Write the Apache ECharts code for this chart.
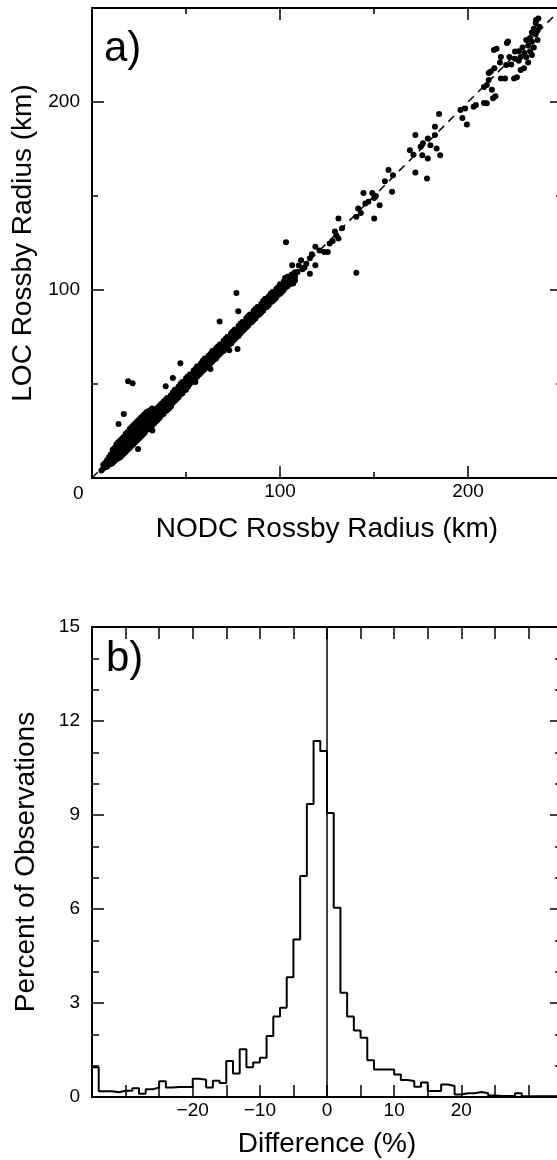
<!DOCTYPE html>
<html lang="en">
<head>
    <meta charset="utf-8">
    <title>Rossby Radius comparison</title>
    <style>
        html, body { margin: 0; padding: 0; background: #fff; }
        #chart { width: 557px; height: 1160px; }
    </style>
</head>
<body>
<div id="chart"></div>
<script type="text/javascript" src="https://cdn.jsdelivr.net/npm/echarts@6/dist/echarts.min.js"></script>
<script type="text/javascript">
// panel a) : dense band along the 1:1 line, [NODC, LOC] in km
var bandPairs = [
    [5,4],[6,5],[6,7],[7,6],[7,8],[8,6],[8,7.5],[8,9.5],[9,7],[9,9],[9,11],[10,7.5],[10,10],[10,12.5],
    [11,8],[11,11],[11,13.5],[11,15],[12,9],[12,12],[12,14],[12,16],[13,10],[13,13],[13,15.5],[13,18],
    [14,10.5],[14,14],[14,16],[14,19],[15,11],[15,15],[15,17.5],[15,20],[16,12],[16,16],[16,18.5],[16,21],
    [17,13],[17,17],[17,19.5],[17,22],[18,14],[18,18],[18,21],[18,23.5],[19,15],[19,19],[19,22],[19,24.5],
    [20,16],[20,20],[20,23],[20,26],[21,17],[21,21],[21,24],[21,27],[22,18],[22,22],[22,25],[22,28],
    [23,19],[23,23],[23,26],[23,29],[24,20],[24,24],[24,27],[24,30],[25,21],[25,25],[25,28],[25,31],
    [26,22],[26,26],[26,29],[26,32],[27,23],[27,27],[27,30],[27,33],[28,24],[28,28],[28,31],[28,34],
    [29,25.5],[29,29],[29,32],[29,35],[30,26],[30,30],[30,33],[30,35.5],[31,27],[31,31],[31,34],[31,36],
    [32,28],[32,32],[32,35],[32,37],[33,29],[33,33],[33,35.5],[34,30],[34,34],[34,36.5],[35,31],[35,35],[35,37.5],
    [36,32],[36,36],[36,38.5],[37,33.5],[37,37],[37,39.5],[38,34],[38,38],[38,40.5],[39,35.5],[39,39],[39,41.5],
    [40,36],[40,40],[40,42.5],[41,37],[41,41],[42,38],[42,42],[42,44],[43,40],[43,43],[43,45.5],[44,41],[44,44.5],[44,47],
    [45,42],[45,45.5],[46,43],[46,46],[46,48.5],[47,44.5],[47,48],[47,50],[48,45],[48,48.5],[48,51],[49,46.5],[49,50],
    [50,47],[50,50.5],[50,53],[51,48.5],[51,52],[51,54],[52,50],[52,53],[52,55],[53,51],[53,54],
    [54,51.5],[54,55],[54,57],[55,53],[55,56],[55,58],[56,54],[56,57.5],[56,59.5],[57,55],[57,58],
    [58,56],[58,59],[58,61],[59,57],[59,60.5],[59,62.5],[60,58],[60,61],[60,63.5],[61,59],[61,62],
    [62,59.5],[62,63],[62,65],[63,61],[63,64],[63,66],[64,62],[64,65.5],[64,67.5],[65,63],[65,66],
    [66,63.5],[66,67],[66,69],[67,65],[67,68],[67,70],[68,66],[68,69.5],[68,71],[69,67],[69,70],
    [70,67.5],[70,71],[70,73],[71,69],[71,72],[71,74],[72,70],[72,73.5],[72,75],[73,71],[73,74],
    [74,71.5],[74,75],[74,77],[75,73],[75,76],[75,78],[76,74],[76,77.5],[76,79],[77,75],[77,78],
    [78,75.5],[78,79],[78,81],[79,77],[79,80],[79,82],[80,78],[80,81.5],[80,83],[81,79],[81,82],
    [82,80],[82,83],[82,85],[83,81],[83,84.5],[83,86],[84,82.5],[84,85.5],[84,87],[85,83],[85,86],
    [86,84],[86,87],[86,89],[87,85],[87,88.5],[87,90],[88,86.5],[88,89.5],[88,91],[89,87],[89,90],
    [90,88],[90,91],[90,92.5],[91,89],[91,92],[91,94],[92,90.5],[92,93.5],[92,95],[93,91],[93,94],
    [94,92],[94,95],[94,96.5],[95,93.5],[95,96],[95,98],[96,94],[96,97.5],[96,99],[97,95],[97,98],
    [98,96],[98,99],[98,100.5],[99,97.5],[99,100],[99,101.5],[100,98],[100,101],[100,103],
    [101,99],[101,102],[102,100],[102,103],[102,104.5],[103,101.5],[103,104],[103,106],
    [104,102],[104,105.5],[104,107],[105,103],[106,104],[106,107],[106,108],[107,103.5],[107,108.5],[108,105],[108,109.5]
];
// panel a) : scattered points away from the band
var sparsePairs = [
    [16.9,34],[14.1,28.7],[24.5,15.4],[19.2,51.4],[21.6,50.4],[32.1,25.2],[39.2,48.8],[43,53.2],[47,61],
    [67.9,83.2],[77.8,88.7],[76.8,98.4],[77.4,68.6],[73,68],[63,58],[55,51],
    [92.2,95.4],[96,97.2],[97.9,99.8],[100.8,101.7],[102.7,106.4],[105.6,103.4],[108,107],[109.3,109.6],
    [106.5,113.1],[111.2,115.8],[110,113],[112,111],[113,112],[114,114],[115.9,116.9],[115.9,108.7],
    [118.8,113.1],[117,119],[118.8,123],[121,121],[103.2,125.4],[123.5,120.2],[125.4,120.2],[126.4,124.7],
    [128,126],[130,129],[129.2,131.1],[131.1,127.4],[133,132.9],[131.1,138],[140.6,109.2],
    [140.6,139],[141.6,143.3],[143,141],[145.4,146],[147,147],[144.4,151.6],[149.1,151.6],[150.1,148.9],
    [151,150],[153,145.1],[150.1,138],[155.8,157.8],[159.6,152.2],[157.7,163.8],[160.1,161.1],
    [172,162.5],[178.2,159.3],[169.1,174.4],[171,172],[174.8,176.2],[175.7,171.7],[178.6,170],[176,178],
    [178.6,180.6],[172,182.4],[180,177],[182.4,182.4],[182.4,186.9],[183.3,175.3],[185.2,171.7],
    [184.6,193.6],[196,195.7],[197,191.5],[198.5,196.6],[199.4,188],[203,197.5],[204.2,198.4],[208.5,199.5],
    [210,199.3],[213.3,202],[214.6,203],[208.5,208],[210,209],[211,211.7],[212.7,206.5],[211,215.4],
    [212.1,216.2],[214,218],[217.5,212.5],[219.7,212.5],[224.5,212.5],[226,213.1],[217,221],[217.5,224],
    [220.3,219.7],[222,224],[223,220],[225,223],[213.8,227.7],[215.2,228.3],[220.7,231.4],[221.3,232.2],
    [225,226.8],[227,222],[228,217],[229.8,218],[227,227],[228,224],[230,226],[231,224],[229,229],
    [231,233],[232,230],[233,227],[233,234],[234,232],[234,237],[235,229],[235,239],[236,236],[236,242],
    [237,233],[232,221],[234,225],[236.2,243.6],[237.4,244.4],[238,240],[237,238]
];
var oneToOne = [[0, 0], [250, 250]];

// panel b) : histogram of differences, 1 % bins, left edges and percent
var binLeft = [
    -35,-34,-33,-32,-31,-30,-29,-28,-27,-26,-25,-24,-23,-22,-21,-20,-19,-18,-17,-16,
    -15,-14,-13,-12,-11,-10,-9,-8,-7,-6,-5,-4,-3,-2,-1,0,1,2,3,4,
    5,6,7,8,9,10,11,12,13,14,15,16,17,18,19,20,21,22,23,24,
    25,26,27,28,29,30,31,32,33,34
];
var binPercent = [
    0.95,0.18,0.18,0.15,0.2,0.2,0.28,0.1,0.25,0.3,0.5,0.3,0.32,0.32,0.32,0.58,0.55,0.3,0.52,0.45,
    1.15,0.75,1.52,0.95,1.1,1.25,1.95,2.57,2.85,3.82,5.03,7.05,9.35,11.36,11.04,9.06,6.04,3.33,2.57,2.12,
    1.89,1.17,0.88,0.88,0.88,0.72,0.54,0.51,0.33,0.46,0.19,0.19,0.4,0.35,0.08,0.12,0.12,0.16,0.12,0.05,
    0.03,0.03,0.03,0.12,0.02,0.02,0.02,0.02,0.02,0.02
];
var binRight = 35;

var font = 'Liberation Sans, Arial, sans-serif';
var black = '#000';

function axisBase(extra) {
    var o = {
        type: 'value',
        splitLine: { show: false },
        axisLine: { show: true, onZero: false, lineStyle: { color: black, width: 2 } },
        axisTick: { show: true, inside: true, length: 12, lineStyle: { color: black, width: 1.5 } },
        axisLabel: { show: false, color: black, fontFamily: font, fontSize: 19 },
        nameTextStyle: { color: black, fontFamily: font, fontSize: 28 }
    };
    for (var k in extra) o[k] = extra[k];
    return o;
}
function shortTicks(extra) {
    var o = axisBase(extra);
    o.axisLine = { show: false, onZero: false };
    o.axisTick = { show: true, inside: true, length: 6, lineStyle: { color: black, width: 1.5 } };
    return o;
}

var histLine = [];
for (var i = 0; i < binLeft.length; i++) {
    histLine.push([binLeft[i], binPercent[i]]);
}
histLine.push([binRight, binPercent[binPercent.length - 1]]);

var myChart = echarts.init(document.getElementById('chart'), null, { renderer: 'canvas' });
var option = {
    backgroundColor: '#fff',
    animation: false,
    grid: [
        { left: 92, top: 8, width: 470, height: 470, outerBoundsMode: 'none', containLabel: false },
        { left: 92, top: 627, width: 470, height: 470, outerBoundsMode: 'none', containLabel: false }
    ],
    xAxis: [
        axisBase({
            gridIndex: 0, position: 'bottom', min: 0, max: 250, interval: 100,
            name: 'NODC Rossby Radius (km)', nameLocation: 'middle', nameGap: 37,
            axisLabel: {
                show: true, color: black, fontFamily: font, fontSize: 19, margin: 4,
                showMaxLabel: false,
                formatter: function (v) { return v === 0 ? '' : String(v); }
            }
        }),
        shortTicks({ gridIndex: 0, position: 'bottom', min: 0, max: 250, interval: 50 }),
        axisBase({ gridIndex: 0, position: 'top', min: 0, max: 250, interval: 100 }),
        shortTicks({ gridIndex: 0, position: 'top', min: 0, max: 250, interval: 50 }),
        axisBase({
            gridIndex: 1, position: 'bottom', min: -35, max: 35, interval: 5,
            name: 'Difference (%)', nameLocation: 'middle', nameGap: 33,
            axisLabel: {
                show: true, color: black, fontFamily: font, fontSize: 19, margin: 4,
                formatter: function (v) {
                    if (v % 10 !== 0 || Math.abs(v) > 20) return '';
                    return v < 0 ? '\u2212' + Math.abs(v) : String(v);
                }
            }
        }),
        axisBase({ gridIndex: 1, position: 'top', min: -35, max: 35, interval: 5 })
    ],
    yAxis: [
        axisBase({
            gridIndex: 0, position: 'left', min: 0, max: 250, interval: 100,
            name: 'LOC Rossby Radius (km)', nameLocation: 'middle', nameGap: 52,
            axisLabel: {
                show: true, color: black, fontFamily: font, fontSize: 19, margin: 12,
                showMaxLabel: false,
                formatter: function (v) { return v === 0 ? '' : String(v); }
            }
        }),
        shortTicks({ gridIndex: 0, position: 'left', min: 0, max: 250, interval: 50 }),
        axisBase({ gridIndex: 0, position: 'right', min: 0, max: 250, interval: 100 }),
        shortTicks({ gridIndex: 0, position: 'right', min: 0, max: 250, interval: 50 }),
        axisBase({
            gridIndex: 1, position: 'left', min: 0, max: 15, interval: 3,
            name: 'Percent of Observations', nameLocation: 'middle', nameGap: 52,
            minorTick: { show: true, splitNumber: 3, length: 7, lineStyle: { color: black, width: 1.5 } },
            axisLabel: { show: true, color: black, fontFamily: font, fontSize: 19, margin: 12 }
        }),
        axisBase({
            gridIndex: 1, position: 'right', min: 0, max: 15, interval: 3,
            minorTick: { show: true, splitNumber: 3, length: 7, lineStyle: { color: black, width: 1.5 } }
        })
    ],
    series: [
        {
            type: 'line', xAxisIndex: 0, yAxisIndex: 0, data: oneToOne,
            symbol: 'none', silent: true,
            lineStyle: { color: black, width: 1.5, type: [8, 6] }
        },
        {
            type: 'scatter', xAxisIndex: 0, yAxisIndex: 0,
            data: bandPairs.concat(sparsePairs),
            symbol: 'circle', symbolSize: 6,
            itemStyle: { color: black, opacity: 1 }
        },
        {
            type: 'line', xAxisIndex: 4, yAxisIndex: 4, data: histLine,
            step: 'end', symbol: 'none',
            lineStyle: { color: black, width: 2 },
            markLine: {
                silent: true, symbol: 'none', label: { show: false },
                lineStyle: { color: black, width: 1.5, type: 'solid' },
                data: [{ xAxis: 0 }]
            }
        }
    ],
    graphic: [
        { type: 'text', left: 104, top: 28, style: { text: 'a)', font: '42px ' + font, fill: black } },
        { type: 'text', left: 106, top: 638, style: { text: 'b)', font: '42px ' + font, fill: black } },
        { type: 'text', left: 73, top: 484, style: { text: '0', font: '19px ' + font, fill: black } }
    ]
};
myChart.setOption(option);

window.addEventListener('resize', function () {
    myChart.resize();
});
</script>
</body>
</html>
